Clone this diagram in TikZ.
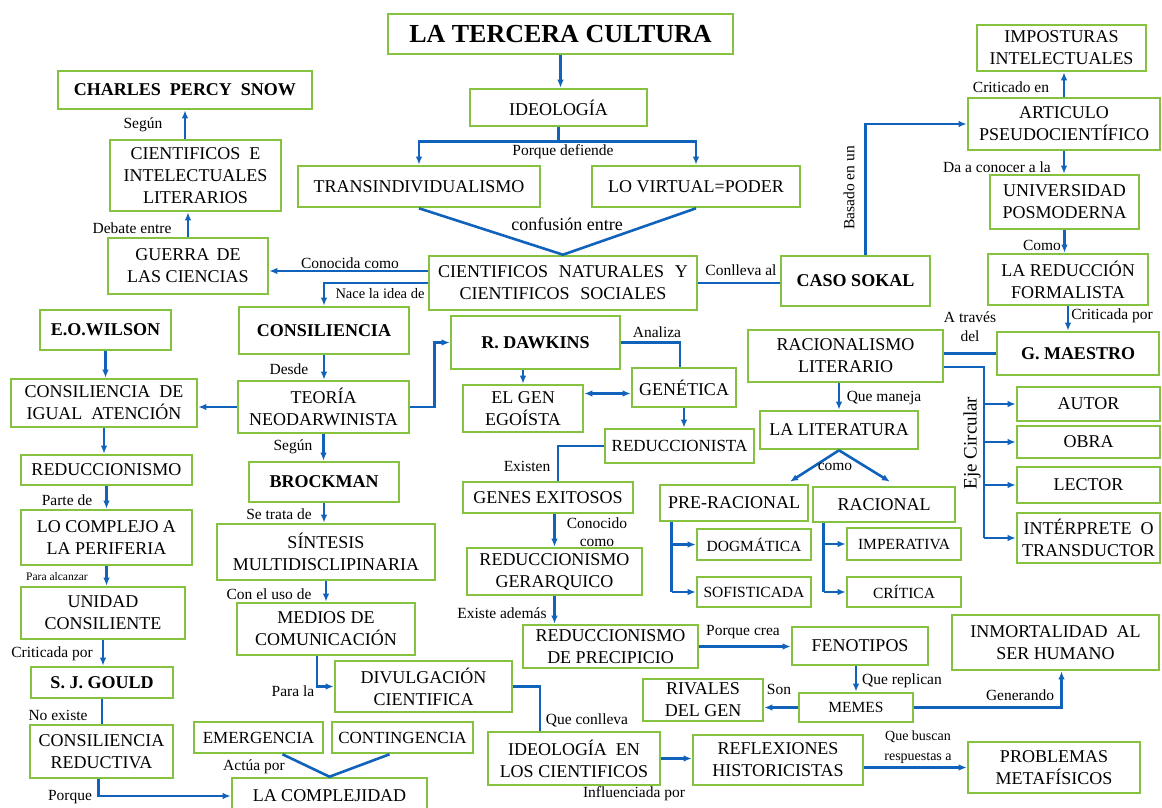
\documentclass[tikz,border=0pt]{standalone}
\usepackage{fontspec}
\setmainfont{Liberation Serif}
\usetikzlibrary{arrows.meta}
\definecolor{bgreen}{RGB}{132,194,64}
\definecolor{lblue}{RGB}{16,98,186}
\tikzset{
 box/.style={draw=bgreen, line width=2.6pt, fill=white, inner sep=0pt, align=center, font=\fontsize{18}{22}\selectfont},
 bbox/.style={box, font=\bfseries\fontsize{18}{22}\selectfont},
 sbox/.style={box, font=\fontsize{15.5}{18}\selectfont},
 mbox/.style={box, font=\fontsize{17}{20}\selectfont},
 conn/.style={draw=lblue, line width=2.6pt},
 arr/.style={conn, -{Latex[length=8pt,width=6.5pt]}},
 darr/.style={conn, {Latex[length=8pt,width=6.5pt]}-{Latex[length=8pt,width=6.5pt]}},
 lbl/.style={inner sep=0pt, align=center, font=\fontsize{15.5}{18}\selectfont},
}
\newcommand\mybox[7][]{\node[box,#1,minimum width={(#5-#3)*1pt},minimum height={(#6-#4)*1pt}] (#2) at ({(#3+#5)/2},{(#4+#6)/2}) {#7};}
\begin{document}
\begin{tikzpicture}[x=1pt,y=-1pt]
\useasboundingbox (0,0) rectangle (1162,807);
\fill[white] (0,0) rectangle (1162,807);
% ---------- boxes ----------
\mybox[bbox]{ltc}{388}{14}{733}{54}{\fontsize{26}{30}\selectfont LA TERCERA CULTURA}
\mybox{ideo}{470}{89}{647}{126}{IDEOLOGÍA}
\mybox{trans}{298}{166}{540}{207}{TRANSINDIVIDUALISMO}
\mybox{virt}{592}{166}{800}{207}{LO VIRTUAL=PODER}
\mybox{cnat}{429}{256}{697}{310}{CIENTIFICOS\hspace{0.6em}NATURALES\hspace{0.6em}Y\\CIENTIFICOS\hspace{0.6em}SOCIALES}
\mybox[bbox]{sokal}{781}{256}{930}{306}{CASO SOKAL}
\mybox[bbox]{cps}{58}{71}{312}{109}{CHARLES\hspace{0.5em}PERCY\hspace{0.5em}SNOW}
\mybox{cie}{110}{140}{281}{211}{CIENTIFICOS\hspace{0.5em}E\\INTELECTUALES\\LITERARIOS}
\mybox{guer}{108}{238}{268}{294}{GUERRA\hspace{0.4em}DE\\LAS CIENCIAS}
\mybox{impo}{977}{25}{1146}{71}{IMPOSTURAS\\INTELECTUALES}
\mybox{art}{968}{98}{1160}{150}{ARTICULO\\PSEUDOCIENTÍFICO}
\mybox{univ}{990}{175}{1139}{229}{UNIVERSIDAD\\POSMODERNA}
\mybox{redf}{988}{254}{1148}{305}{LA REDUCCIÓN\\FORMALISTA}
\mybox[bbox]{gmae}{997}{332}{1159}{375}{G. MAESTRO}
\mybox{rlit}{748}{330}{943}{382}{RACIONALISMO\\LITERARIO}
\mybox{lit}{760}{411}{918}{449}{LA LITERATURA}
\mybox{prer}{660}{485}{808}{521}{PRE-RACIONAL}
\mybox{rac}{813}{487}{955}{522}{RACIONAL}
\mybox[sbox]{dogm}{697}{529}{811}{560}{DOGMÁTICA}
\mybox[sbox]{sofi}{697}{577}{811}{607}{SOFISTICADA}
\mybox[sbox]{imper}{847}{528}{961}{560}{IMPERATIVA}
\mybox[sbox]{crit}{847}{577}{961}{607}{CRÍTICA}
\mybox{autor}{1017}{387}{1160}{421}{AUTOR}
\mybox{obra}{1017}{426}{1160}{458}{OBRA}
\mybox{lect}{1017}{467}{1160}{503}{LECTOR}
\mybox{inter}{1017}{513}{1160}{563}{INTÉRPRETE\hspace{0.5em}O\\TRANSDUCTOR}
\mybox[bbox]{eow}{40}{310}{171}{350}{E.O.WILSON}
\mybox[bbox]{consi}{239}{307}{409}{354}{CONSILIENCIA}
\mybox{cigual}{11}{379}{197}{427}{CONSILIENCIA\hspace{0.5em}DE\\IGUAL\hspace{0.5em}ATENCIÓN}
\mybox{teo}{238}{381}{409}{433}{TEORÍA\\NEODARWINISTA}
\mybox{reduc}{21}{455}{192}{485}{REDUCCIONISMO}
\mybox[bbox]{brock}{249}{462}{399}{502}{BROCKMAN}
\mybox{compl}{21}{510}{192}{565}{LO COMPLEJO A\\LA PERIFERIA}
\mybox{sint}{217}{524}{435}{580}{SÍNTESIS\\MULTIDISCLIPINARIA}
\mybox{unid}{21}{587}{185}{639}{UNIDAD\\CONSILIENTE}
\mybox{medios}{237}{603}{415}{655}{MEDIOS DE\\COMUNICACIÓN}
\mybox[bbox]{gould}{31}{667}{173}{698}{S. J. GOULD}
\mybox{divul}{335}{661}{512}{712}{DIVULGACIÓN\\CIENTIFICA}
\mybox{credu}{30}{725}{173}{778}{CONSILIENCIA\\REDUCTIVA}
\mybox[mbox]{emer}{194}{722}{323}{753}{EMERGENCIA}
\mybox[mbox]{cont}{332}{722}{473}{753}{CONTINGENCIA}
\mybox{lacomp}{232}{778}{427}{814}{LA COMPLEJIDAD}
\mybox[bbox]{daw}{451}{316}{620}{369}{R. DAWKINS}
\mybox{gene}{632}{368}{736}{407}{GENÉTICA}
\mybox{egoi}{463}{385}{583}{432}{EL GEN\\EGOÍSTA}
\mybox[mbox]{redn}{605}{429}{754}{463}{REDUCCIONISTA}
\mybox{genx}{463}{482}{633}{513}{GENES EXITOSOS}
\mybox{rger}{467}{548}{642}{595}{REDUCCIONISMO\\GERARQUICO}
\mybox{rprec}{523}{625}{698}{668}{REDUCCIONISMO\\DE PRECIPICIO}
\mybox{feno}{792}{627}{928}{665}{FENOTIPOS}
\mybox[sbox]{memes}{799}{693}{913}{722}{MEMES}
\mybox{riv}{643}{679}{763}{721}{RIVALES\\DEL GEN}
\mybox{inmo}{952}{615}{1159}{670}{INMORTALIDAD\hspace{0.5em}AL\\SER HUMANO}
\mybox{ideoc}{488}{732}{660}{785}{IDEOLOGÍA\hspace{0.5em}EN\\LOS CIENTIFICOS}
\mybox{refl}{693}{735}{863}{785}{REFLEXIONES\\HISTORICISTAS}
\mybox{prob}{968}{742}{1140}{793}{PROBLEMAS\\METAFÍSICOS}
% ---------- helper coordinates ----------
\coordinate (c1) at ([yshift=12pt]cnat.west);
\coordinate (eje0) at ([yshift=-11pt]rlit.east);
\coordinate (eje) at (984,367);
\coordinate (p0) at ([xshift=13pt]prer.south west);
\coordinate (r0) at ([xshift=12pt]rac.south west);
\coordinate (g1) at ([yshift=-6pt]gene.west);
% ---------- connectors ----------
\draw[arr] (ltc.south) -- (ltc.south |- ideo.north);
\draw[conn] (ideo.south) -- ++(0,14) coordinate (split);
\draw[arr] (split) -| (trans.north);
\draw[arr] (split) -| (virt.north);
\draw[conn] (trans.south) -- (cnat.north) -- (virt.south);
\draw[arr] (c1) -- (c1 -| guer.east);
\draw[arr] (cnat.west) -| (consi.north);
\draw[conn] (cnat.east) -- (cnat.east -| sokal.west);
\draw[arr] ([xshift=10pt]sokal.north) |- (art.west);
\draw[arr] (art.north) -- (art.north |- impo.south);
\draw[arr] (art.south) -- (art.south |- univ.north);
\draw[arr] (univ.south) -- (univ.south |- redf.north);
\draw[arr] (redf.south) -- (redf.south |- gmae.north);
\draw[conn] (gmae.west) -- (gmae.west -| rlit.east);
\draw[conn] (eje0) -- (eje) -- (eje |- inter.west);
\draw[arr] (eje |- autor.west) -- (autor.west);
\draw[arr] (eje |- obra.west) -- (obra.west);
\draw[arr] (eje |- lect.west) -- (lect.west);
\draw[arr] (eje |- inter.west) -- (inter.west);
\draw[arr] (lit.north |- rlit.south) -- (lit.north);
\draw[arr] (lit.south) -- ([xshift=56pt,yshift=2pt]prer.north);
\draw[arr] (lit.south) -- ([xshift=6pt,yshift=4pt]rac.north);
\draw[conn] (p0) -- (p0 |- sofi.west);
\draw[arr] (p0 |- dogm.west) -- (dogm.west);
\draw[arr] (p0 |- sofi.west) -- (sofi.west);
\draw[conn] (r0) -- (r0 |- crit.west);
\draw[arr] (r0 |- imper.west) -- (imper.west);
\draw[arr] (r0 |- crit.west) -- (crit.west);
\draw[arr] (consi.south) -- (consi.south |- teo.north);
\draw[arr] (teo.west) -- (teo.west -| cigual.east);
\draw[arr] (teo.east) -| ([xshift=-15pt]daw.west) -- (daw.west);
\draw[arr] (teo.south) -- (teo.south |- brock.north);
\draw[arr] (brock.south) -- (brock.south |- sint.north);
\draw[arr] (sint.south) -- (sint.south |- medios.north);
\draw[arr] ([xshift=-9pt]medios.south) |- (divul.west);
\draw[conn] (divul.east) -| ([xshift=-34pt]ideoc.north);
\draw[arr] (eow.south) -- (eow.south |- cigual.north);
\draw[arr] (cigual.south) -- (cigual.south |- reduc.north);
\draw[arr] (reduc.south) -- (reduc.south |- compl.north);
\draw[arr] (compl.south) -- (compl.south |- unid.north);
\draw[arr] (unid.south) -- (unid.south |- gould.north);
\draw[conn] (gould.south) -- (gould.south |- credu.north);
\draw[arr] ([xshift=-3pt]credu.south) |- (lacomp.west);
\draw[conn] ([xshift=24pt]emer.south) -- (lacomp.north) -- ([xshift=-13pt]cont.south);
\draw[arr] (cie.north -| cps.south) -- (cps.south);
\draw[arr] (guer.north) -- (guer.north |- cie.south);
\draw[arr] (egoi.north |- daw.south) -- (egoi.north);
\draw[conn] (daw.east) -| ([xshift=-4pt]gene.north);
\draw[darr] (g1 -| egoi.east) -- (g1);
\draw[arr] (gene.south) -- (gene.south |- redn.north);
\draw[conn] (redn.west) -| ([xshift=10pt]genx.north);
\draw[arr] (rger.north |- genx.south) -- (rger.north);
\draw[arr] (rger.south) -- (rger.south |- rprec.north);
\draw[arr] (rprec.east) -- (rprec.east -| feno.west);
\draw[arr] (memes.north |- feno.south) -- (memes.north);
\draw[arr] (memes.west) -- (memes.west -| riv.east);
\draw[arr] (memes.east) -| ([xshift=6pt]inmo.south);
\draw[arr] (ideoc.east) -- (ideoc.east -| refl.west);
\draw[arr] (prob.west -| refl.east) -- (prob.west);
% ---------- labels ----------
\node[lbl] (l01) at (143,125) {Según};
\node[lbl] (l02) at (132,228) {Debate entre};
\node[lbl] (l03) at (350,263) {Conocida como};
\node[lbl,font=\fontsize{14.5}{17}\selectfont] (l04) at (380,294) {Nace la idea de};
\node[lbl] (l05) at (563,152) {Porque defiende};
\node[lbl,font=\fontsize{18}{21}\selectfont] (l06) at (567,224) {confusión entre};
\node[lbl] (l07) at (741,270) {Conlleva al};
\node[lbl,rotate=90] (l08) at (849,188) {Basado en un};
\node[lbl] (l09) at (1011,87) {Criticado en};
\node[lbl] (l10) at (997,167) {Da a conocer a la};
\node[lbl] (l11) at (1042,245) {Como};
\node[lbl] (l12) at (1112,316) {Criticada por};
\node[lbl,font=\fontsize{15.5}{19}\selectfont] (l13) at (970,327) {A través\\del};
\node[lbl,rotate=90,font=\fontsize{19}{22}\selectfont] (l14) at (972,443) {Eje Circular};
\node[lbl] (l15) at (884,398) {Que maneja};
\node[lbl] (l16) at (835,467) {como};
\node[lbl] (l17) at (289,369) {Desde};
\node[lbl] (l18) at (293,447) {Según};
\node[lbl] (l19) at (279,514) {Se trata de};
\node[lbl] (l20) at (67,500) {Parte de};
\node[lbl,font=\fontsize{11.5}{13}\selectfont] (l21) at (57,577) {Para alcanzar};
\node[lbl] (l22) at (269,594) {Con el uso de};
\node[lbl] (l23) at (52,654) {Criticada por};
\node[lbl] (l24) at (293,691) {Para la};
\node[lbl] (l25) at (58,715) {No existe};
\node[lbl] (l26) at (70,797) {Porque};
\node[lbl] (l27) at (254,767) {Actúa por};
\node[lbl] (l28) at (657,332) {Analiza};
\node[lbl] (l29) at (527,466) {Existen};
\node[lbl,font=\fontsize{15.5}{18.5}\selectfont] (l30) at (597,532) {Conocido\\como};
\node[lbl] (l31) at (502,613) {Existe además};
\node[lbl] (l32) at (743,632) {Porque crea};
\node[lbl] (l33) at (902,681) {Que replican};
\node[lbl] (l34) at (779,689) {Son};
\node[lbl] (l35) at (1020,695) {Generando};
\node[lbl] (l36) at (587,720) {Que conlleva};
\node[lbl] (l37) at (634,794) {Influenciada por};
\node[lbl,font=\fontsize{14}{20}\selectfont] (l38) at (918,747) {Que buscan\\respuestas a};
\end{tikzpicture}
\end{document}
